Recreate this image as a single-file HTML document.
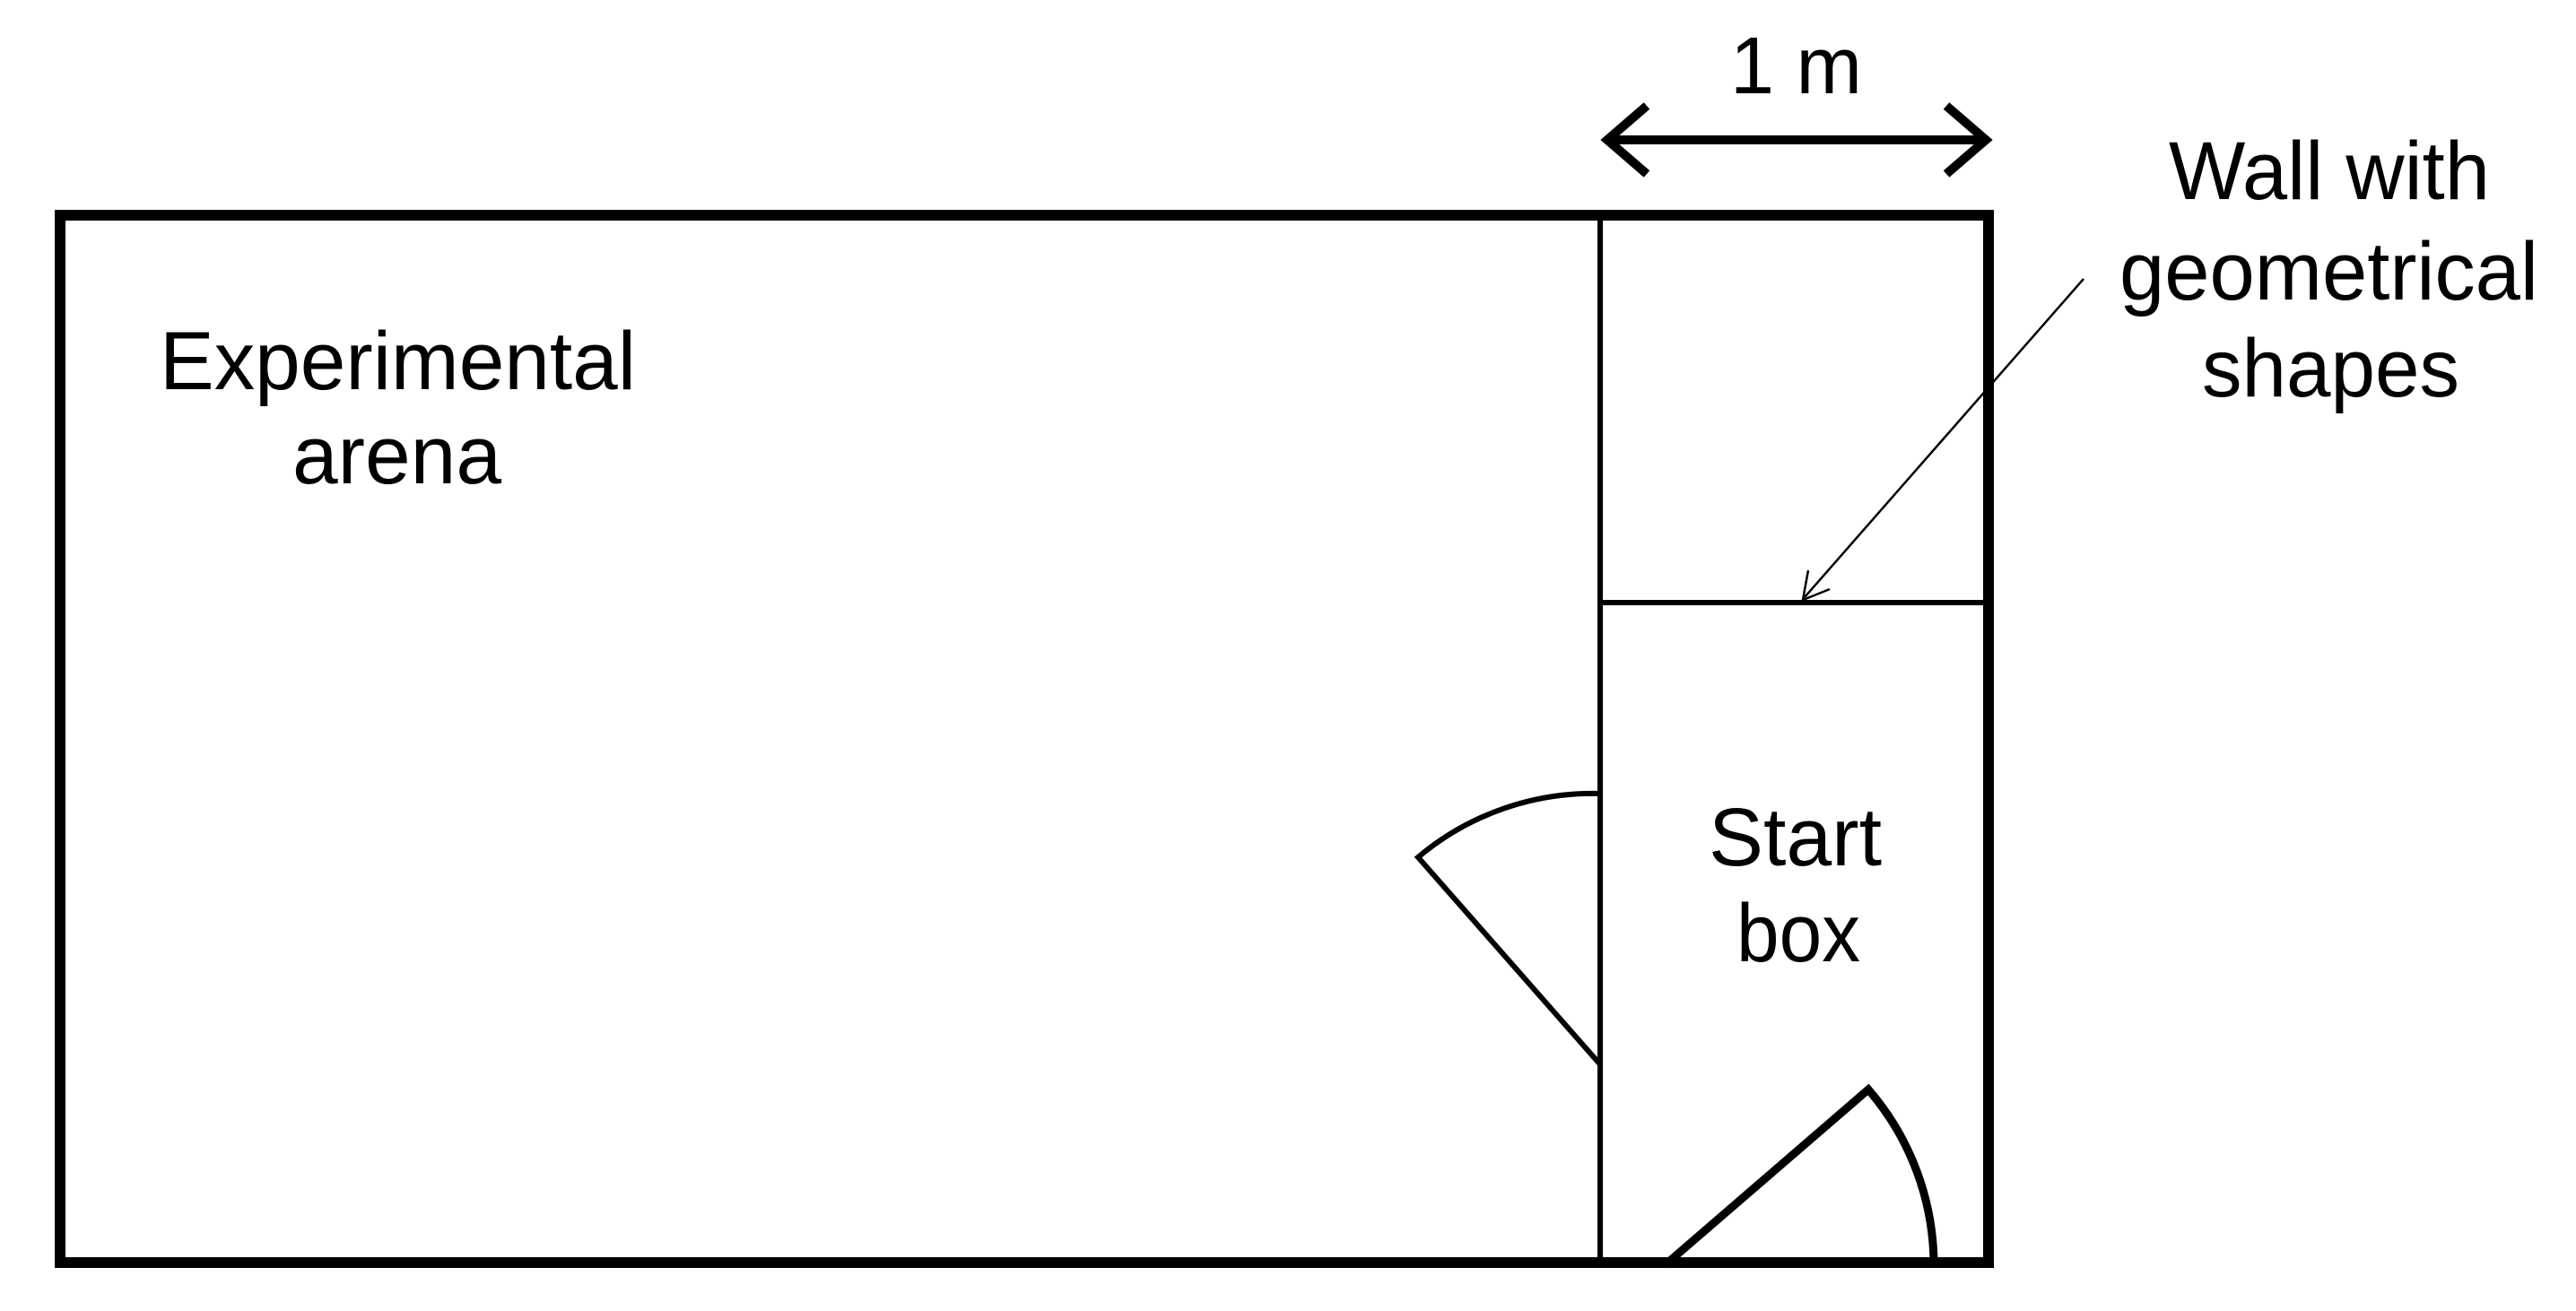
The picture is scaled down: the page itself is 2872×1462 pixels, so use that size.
<!DOCTYPE html>
<html><head><meta charset="utf-8"><style>
html,body{margin:0;padding:0;background:#fff;}
svg{display:block;}
text{font-family:"Liberation Sans",Arial,sans-serif;fill:#000;}
</style></head><body>
<svg width="2872" height="1462" viewBox="0 0 2872 1462" xmlns="http://www.w3.org/2000/svg">
<rect width="2872" height="1462" fill="#fff"/>
<rect x="67" y="240" width="2150" height="1168" fill="none" stroke="#000" stroke-width="12"/>
<line x1="1784" y1="240" x2="1784" y2="1408" stroke="#000" stroke-width="6"/>
<line x1="1784" y1="672" x2="2217" y2="672" stroke="#000" stroke-width="6"/>
<path d="M1784,885 A302,302 0 0 0 1581,956 L1784,1187" fill="none" stroke="#000" stroke-width="6"/>
<path d="M1856,1411 L2083,1215 A300,300 0 0 1 2156,1411" fill="none" stroke="#000" stroke-width="9"/>
<line x1="1792" y1="156" x2="2214" y2="156" stroke="#000" stroke-width="10"/>
<polyline points="1836,118 1792,156 1836,194" fill="none" stroke="#000" stroke-width="10"/>
<polyline points="2170,118 2214,156 2170,194" fill="none" stroke="#000" stroke-width="10"/>
<line x1="2323" y1="311" x2="2012" y2="666" stroke="#000" stroke-width="2.5"/>
<polyline points="2016,636 2010,669 2040,657" fill="none" stroke="#000" stroke-width="2.5"/>
<text x="1929" y="104" font-size="90" textLength="147" lengthAdjust="spacingAndGlyphs">1 m</text>
<text x="2418" y="222" font-size="92" textLength="358" lengthAdjust="spacingAndGlyphs">Wall with</text>
<text x="2363" y="334" font-size="92" textLength="467" lengthAdjust="spacingAndGlyphs">geometrical</text>
<text x="2455" y="442" font-size="92" textLength="287" lengthAdjust="spacingAndGlyphs">shapes</text>
<text x="178" y="434" font-size="92" textLength="531" lengthAdjust="spacingAndGlyphs">Experimental</text>
<text x="326" y="539" font-size="92" textLength="233" lengthAdjust="spacingAndGlyphs">arena</text>
<text x="1905" y="965" font-size="92" textLength="193" lengthAdjust="spacingAndGlyphs">Start</text>
<text x="1936" y="1072" font-size="92" textLength="138" lengthAdjust="spacingAndGlyphs">box</text>
</svg>
</body></html>
